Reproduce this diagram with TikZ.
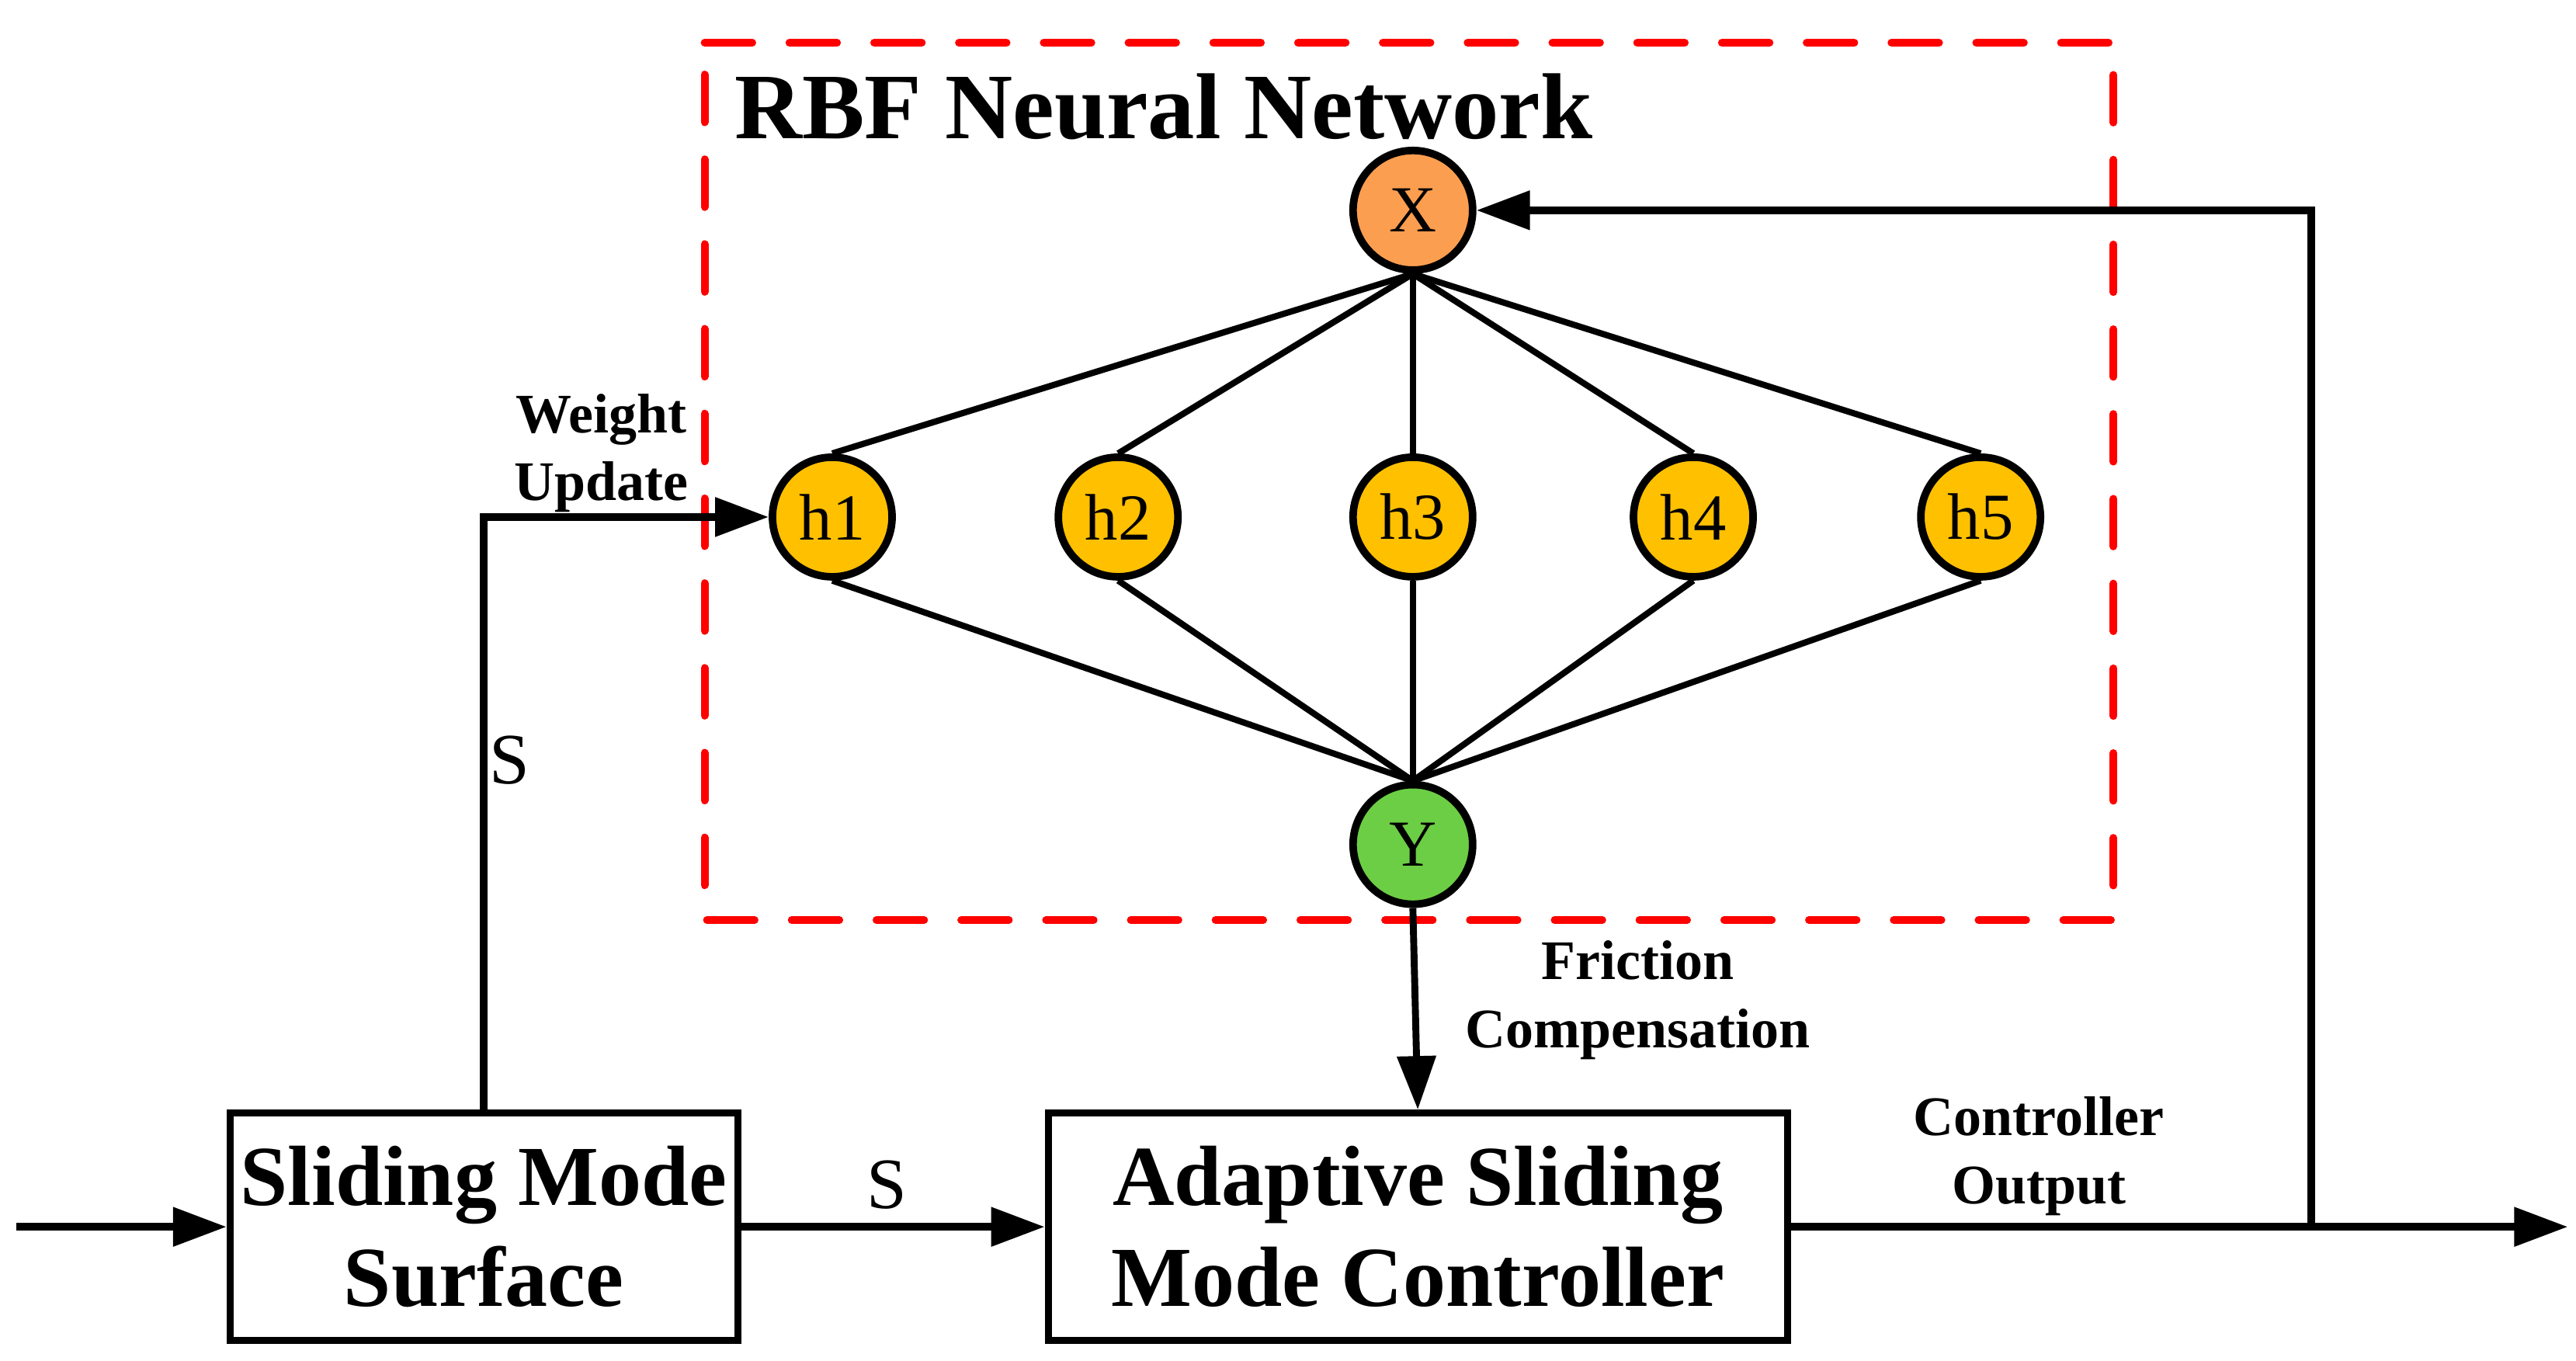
\documentclass[tikz,border=0pt]{standalone}
\usepackage{fontspec}
\setmainfont{Liberation Serif}
\usetikzlibrary{arrows.meta}
\definecolor{xorange}{RGB}{252,158,80}
\definecolor{hyellow}{RGB}{255,192,0}
\definecolor{ygreen}{RGB}{108,206,68}
\tikzset{
  neuron/.style={circle, draw=black, line width=2.3pt, minimum size=36.4pt, inner sep=0pt,
    font=\fontsize{20}{24}\selectfont},
  blockbox/.style={draw=black, line width=2.1pt, inner sep=0pt, minimum height=69.25pt,
    align=center, font=\fontsize{26}{30.7}\selectfont\bfseries},
  smalllabel/.style={inner sep=0pt, anchor=base, font=\fontsize{17}{20}\selectfont\bfseries},
  siglabel/.style={inner sep=0pt, anchor=base, font=\fontsize{22}{26}\selectfont},
  netline/.style={line width=1.9pt},
  conn/.style={line width=2.3pt, -{Triangle[length=16.3pt, width=11.5pt]}},
  rbfframe/.style={draw=red, line width=2.36pt, line cap=round, dash pattern=on 14.5pt off 11.3pt}
}
\begin{document}
\begin{tikzpicture}[x=0.5pt, y=-0.5pt]
\useasboundingbox (0,0) rectangle (1568,828);

% RBF frame
\draw[rbfframe] (428.9,26) -- (1286.5,26) -- (1286.5,560) -- (428.9,560) -- cycle;
\node[inner sep=0pt, anchor=base west, font=\fontsize{28.5}{32}\selectfont\bfseries] (title) at (446.7,84.4) {RBF Neural Network};

% neurons
\node[neuron, fill=xorange] (X) at (860,128) {X};
\node[neuron, fill=hyellow] (h1) at (506.6,314.7) {h1};
\node[neuron, fill=hyellow] (h2) at (680.6,314.7) {h2};
\node[neuron, fill=hyellow] (h3) at (860,314.7) {h3};
\node[neuron, fill=hyellow] (h4) at (1030.7,314.7) {h4};
\node[neuron, fill=hyellow] (h5) at (1205.6,314.7) {h5};
\node[neuron, fill=ygreen] (Y) at (860,514) {Y};

\foreach \h in {h1,h2,h3,h4,h5}{
  \draw[netline] (X.south) -- (\h.north);
  \draw[netline] (\h.south) -- (Y.north);
}

% blocks
\node[blockbox, minimum width=154.5pt] (SMS) at (294.5,746.75) {Sliding Mode\\Surface};
\node[blockbox, minimum width=225pt] (ASMC) at (863,746.75) {Adaptive Sliding\\Mode Controller};

% connectors
\coordinate (in) at (10,746.75);
\coordinate (out) at (1563,746.75);
\coordinate (br) at (1407,746.75);
\coordinate (tr) at (1407,128);

\draw[conn] (in) -- (SMS.west);
\draw[conn] (SMS.east) -- (ASMC.west);
\draw[conn] (ASMC.east) -- (out);
\draw[conn, line join=miter] (br) -- (tr) -- (X.east);
\draw[conn, line join=miter] (SMS.north) |- (h1.west);
\draw[conn, line width=2.1pt] (Y.south) -- (ASMC.north);

% labels
\node[siglabel] (s1) at (540,735.4) {S};
\node[siglabel] (s2) at (310.4,477) {S};
\node[smalllabel] (wu1) at (366.2,263.3) {Weight};
\node[smalllabel] (wu2) at (366.2,304.6) {Update};
\node[smalllabel] (fc1) at (996.9,596) {Friction};
\node[smalllabel] (fc2) at (996.9,637.7) {Compensation};
\node[smalllabel] (co1) at (1241,691.2) {Controller};
\node[smalllabel] (co2) at (1241,732.6) {Output};
\end{tikzpicture}
\end{document}
